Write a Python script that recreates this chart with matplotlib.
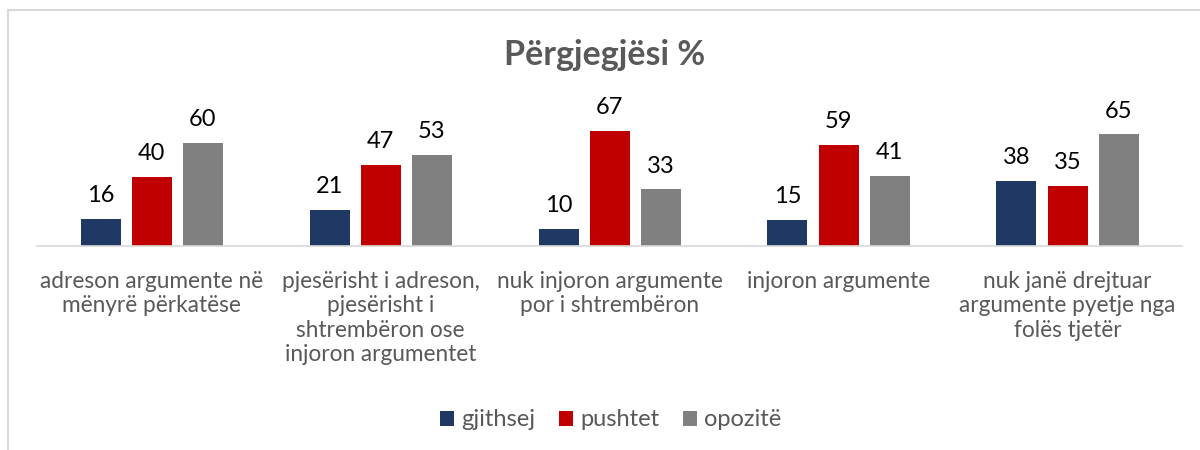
import matplotlib
matplotlib.use("Agg")
import matplotlib.pyplot as plt
from matplotlib.patches import Rectangle
import numpy as np

categories = [
    "adreson argumente në\nmënyrë përkatëse",
    "pjesërisht i adreson,\npjesërisht i\nshtrembëron ose\ninjoron argumentet",
    "nuk injoron argumente\npor i shtrembëron",
    "injoron argumente",
    "nuk janë drejtuar\nargumente pyetje nga\nfolës tjetër",
]
series_names = ["gjithsej", "pushtet", "opozitë"]
gjithsej = [16, 21, 10, 15, 38]
pushtet = [40, 47, 67, 59, 35]
opozite = [60, 53, 33, 41, 65]
colors = ["#1F3864", "#C00000", "#808080"]
title = "Përgjegjësi %"

plt.rcParams['font.family'] = ['Lato', 'DejaVu Sans']

W, H = 1200, 450
fig = plt.figure(figsize=(W / 100, H / 100), dpi=100)

# outer chart border
fig.patches.append(Rectangle((8 / W, -0.1), 1.2, 1 - 10 / H + 0.1, transform=fig.transFigure,
                             fill=False, edgecolor="#D9D9D9", linewidth=1.5))

left, right = 37 / W, 1182 / W
base = 1 - 246 / H
top_px = 246 - 80 * 1.716
ax = fig.add_axes([left, base, right - left, (246 - top_px) / H])

x = np.arange(len(categories))
bw = 40 / 229
gap = 11 / 229
for i, (vals, c, name) in enumerate(zip([gjithsej, pushtet, opozite], colors, series_names)):
    pos = x + (i - 1) * (bw + gap)
    bars = ax.bar(pos, vals, width=bw, color=c, label=name)
    for b, v in zip(bars, vals):
        ax.text(b.get_x() + b.get_width() / 2, v + 7.5, str(v), ha="center", va="bottom",
                fontsize=17, color="black")

ax.set_xlim(-0.5, len(categories) - 0.5)
ax.set_ylim(0, 80)
ax.set_yticks([])
for s in ["top", "right", "left"]:
    ax.spines[s].set_visible(False)
ax.spines["bottom"].set_color("#D9D9D9")
ax.spines["bottom"].set_linewidth(1.2)
ax.set_xticks(x)
ax.set_xticklabels(categories, fontsize=16.3, color="#595959", linespacing=1.2, va="top")
ax.tick_params(axis="x", length=0, pad=18)

fig.text(605 / W, 1 - 55 / H, title, ha="center", va="center", fontsize=24.5,
         fontweight="bold", color="#595959")

handles, labels = ax.get_legend_handles_labels()
fig.legend(handles, labels, loc="center", bbox_to_anchor=(611 / W, 1 - 420 / H), ncol=3,
           frameon=False, fontsize=17, labelcolor="#595959", handlelength=0.6,
           handleheight=0.6, handletextpad=0.3, columnspacing=1.0)

fig.savefig("out.png", dpi=100)
